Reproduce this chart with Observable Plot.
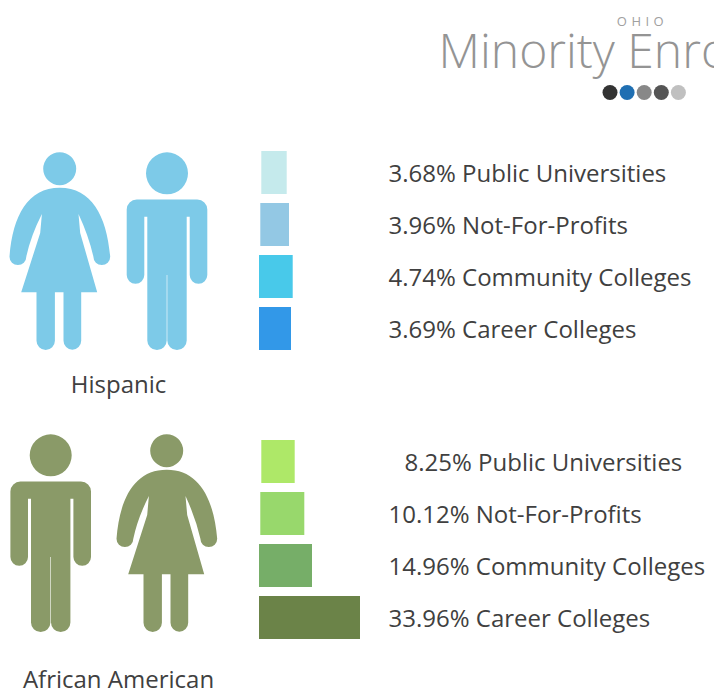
<!DOCTYPE html>
<html>
<head>
<meta charset="utf-8">
<style>
html,body{margin:0;padding:0;background:#fff;overflow:hidden;width:714px;height:692px}
svg{display:block}
</style>
<script src="https://cdn.jsdelivr.net/npm/d3@7"></script>
<script src="https://cdn.jsdelivr.net/npm/@observablehq/plot@0.6"></script>
</head>
<body>
<div id="chart"></div>
<script>
const titleSup = "OHIO";
const titleMain = "Minority Enrollment";
const groups = ["Hispanic", "African American"];
const categories = ["Public Universities", "Not-For-Profits", "Community Colleges", "Career Colleges"];
const hispanicValues = [3.68, 3.96, 4.74, 3.69];
const africanValues = [8.25, 10.12, 14.96, 33.96];
// drawn bar lengths (they do not follow the printed percentages)
const hispanicBars = [25.4, 28.7, 33.7, 32];
const africanBars = [33.4, 44, 53, 101];
const barStagger = [2.3, 1.3, 0, 0];
const hispanicColors = ["#c5eaec", "#93c8e4", "#48c9ea", "#3298e8"];
const africanColors = ["#aee868", "#98d86c", "#76ae68", "#6b8348"];
const figureColors = ["#7dcae8", "#8a9a68"];
const dotColors = ["#333333", "#1f6fb2", "#888888", "#555555", "#c0c0c0"];

const font = "'Open Sans'";
const textColor = "#404040";

const rows = groups.flatMap((group, g) => categories.map((category, i) => ({
  group, category,
  value: (g ? africanValues : hispanicValues)[i],
  length: (g ? africanBars : hispanicBars)[i],
  start: barStagger[i],
  color: (g ? africanColors : hispanicColors)[i]
})));

function drawMan(c) {
  c.moveTo(21, -77.7);
  c.arc(0, -77.7, 21, 0, 2 * Math.PI);
  c.closePath();
  c.moveTo(-30.3, -51.5);
  c.lineTo(30.3, -51.5);
  c.arcTo(40.3, -51.5, 40.3, -41.5, 10);
  c.lineTo(40.3, 23.9);
  c.arc(31.5, 23.9, 8.8, 0, Math.PI);
  c.lineTo(22.7, -34.3);
  c.lineTo(19.7, -34.3);
  c.lineTo(19.7, 89.4);
  c.arc(10, 89.4, 9.7, 0, Math.PI);
  c.lineTo(0.3, 24);
  c.lineTo(-0.3, 24);
  c.lineTo(-0.3, 89.4);
  c.arc(-10, 89.4, 9.7, 0, Math.PI);
  c.lineTo(-19.7, -34.3);
  c.lineTo(-22.7, -34.3);
  c.lineTo(-22.7, 23.9);
  c.arc(-31.5, 23.9, 8.8, 0, Math.PI);
  c.lineTo(-40.3, -41.5);
  c.arcTo(-40.3, -51.5, -30.3, -51.5, 10);
  c.closePath();
}
function drawWoman(c) {
  c.moveTo(16.5, -82.3);
  c.arc(0, -82.3, 16.5, 0, 2 * Math.PI);
  c.closePath();
  c.moveTo(0, -63.3);
  c.bezierCurveTo(-32, -63.3, -47, -35, -50.2, 5.7);
  c.arc(-41.8, 5.7, 8.4, Math.PI, 0, true);
  c.quadraticCurveTo(-29, -15, -17.8, -37);
  c.lineTo(-19.5, -18);
  c.lineTo(-38.5, 41.3);
  c.lineTo(-23.2, 41.3);
  c.lineTo(-23.2, 89.8);
  c.arc(-14, 89.8, 9.2, Math.PI, 0, true);
  c.lineTo(-4.8, 41.3);
  c.lineTo(3.8, 41.3);
  c.lineTo(3.8, 89.8);
  c.arc(12.65, 89.8, 8.85, Math.PI, 0, true);
  c.lineTo(21.5, 41.3);
  c.lineTo(37.5, 41.3);
  c.lineTo(20.5, -18);
  c.lineTo(18.8, -37);
  c.quadraticCurveTo(29, -15, 33.7, 5.7);
  c.arc(42.1, 5.7, 8.4, Math.PI, 0, true);
  c.bezierCurveTo(47, -35, 32, -63.3, 0, -63.3);
  c.closePath();
}

const figure = (group, draw, dx, dy, color) => Plot.vector([group], {
  fy: d => d, shape: {draw}, anchor: "start", frameAnchor: "left",
  dx, dy, fill: color, stroke: "none", length: 1
});
const plain = {fontFamily: font, fill: textColor, frameAnchor: "left", textAnchor: "start", fontSize: 24};
const isIndented = d => d.group === groups[1] && d.category === categories[0];

const chart = Plot.plot({
  width: 714, height: 692,
  marginTop: 151, marginBottom: 52.3, marginLeft: 0, marginRight: 0,
  style: {background: "#fff", fontFamily: font},
  x: {domain: [0, 455], range: [259, 714], axis: null},
  y: {domain: categories, paddingInner: 0.169, paddingOuter: 0, axis: null},
  fy: {domain: groups, padding: 0.309, axis: null},
  color: {type: "identity"},
  marks: [
    figure(groups[0], drawWoman, 59.2, -0.5, figureColors[0]),
    figure(groups[0], drawMan, 166.5, -0.5, figureColors[0]),
    figure(groups[1], drawMan, 50.2, -7.5, figureColors[1]),
    figure(groups[1], drawWoman, 166.2, -7.5, figureColors[1]),
    Plot.barX(rows, {x1: "start", x2: d => d.start + d.length, y: "category", fy: "group", fill: "color"}),
    Plot.text(rows.filter(d => !isIndented(d)), {
      ...plain, y: "category", fy: "group", dx: 388, dy: 1,
      text: d => `${d.value.toFixed(2)}% ${d.category}`
    }),
    Plot.text(rows.filter(isIndented), {
      ...plain, y: "category", fy: "group", dx: 404, dy: 1,
      text: d => `${d.value.toFixed(2)}% ${d.category}`
    }),
    Plot.text([groups[0]], {...plain, fy: d => d, frameAnchor: "bottom-left", textAnchor: "middle", lineAnchor: "middle", dx: 118, dy: 34}),
    Plot.text([groups[1]], {...plain, fy: d => d, frameAnchor: "bottom-left", textAnchor: "middle", lineAnchor: "middle", dx: 118, dy: 40}),
    Plot.text([titleSup], {facet: "super", frameAnchor: "top-left", textAnchor: "middle", lineAnchor: "middle", dx: 642, dy: -130, fontSize: 13, fontFamily: font, fill: "#a0a0a0"}),
    Plot.text([titleMain], {facet: "super", frameAnchor: "top-left", textAnchor: "start", lineAnchor: "middle", dx: 438, dy: -99, fontSize: 48, fontWeight: 300, fontFamily: font, fill: "#949494"}),
    ...dotColors.map((color, i) => Plot.dot([color], {facet: "super", frameAnchor: "top-left", dx: 609.5 + i * 17.1, dy: -59, r: 7.5, fill: color, stroke: "none"}))
  ]
});
d3.select(chart).selectAll("text").filter(function () { return this.textContent === titleSup; }).style("letter-spacing", "4.5px");
document.getElementById("chart").append(chart);
</script>
</body>
</html>
